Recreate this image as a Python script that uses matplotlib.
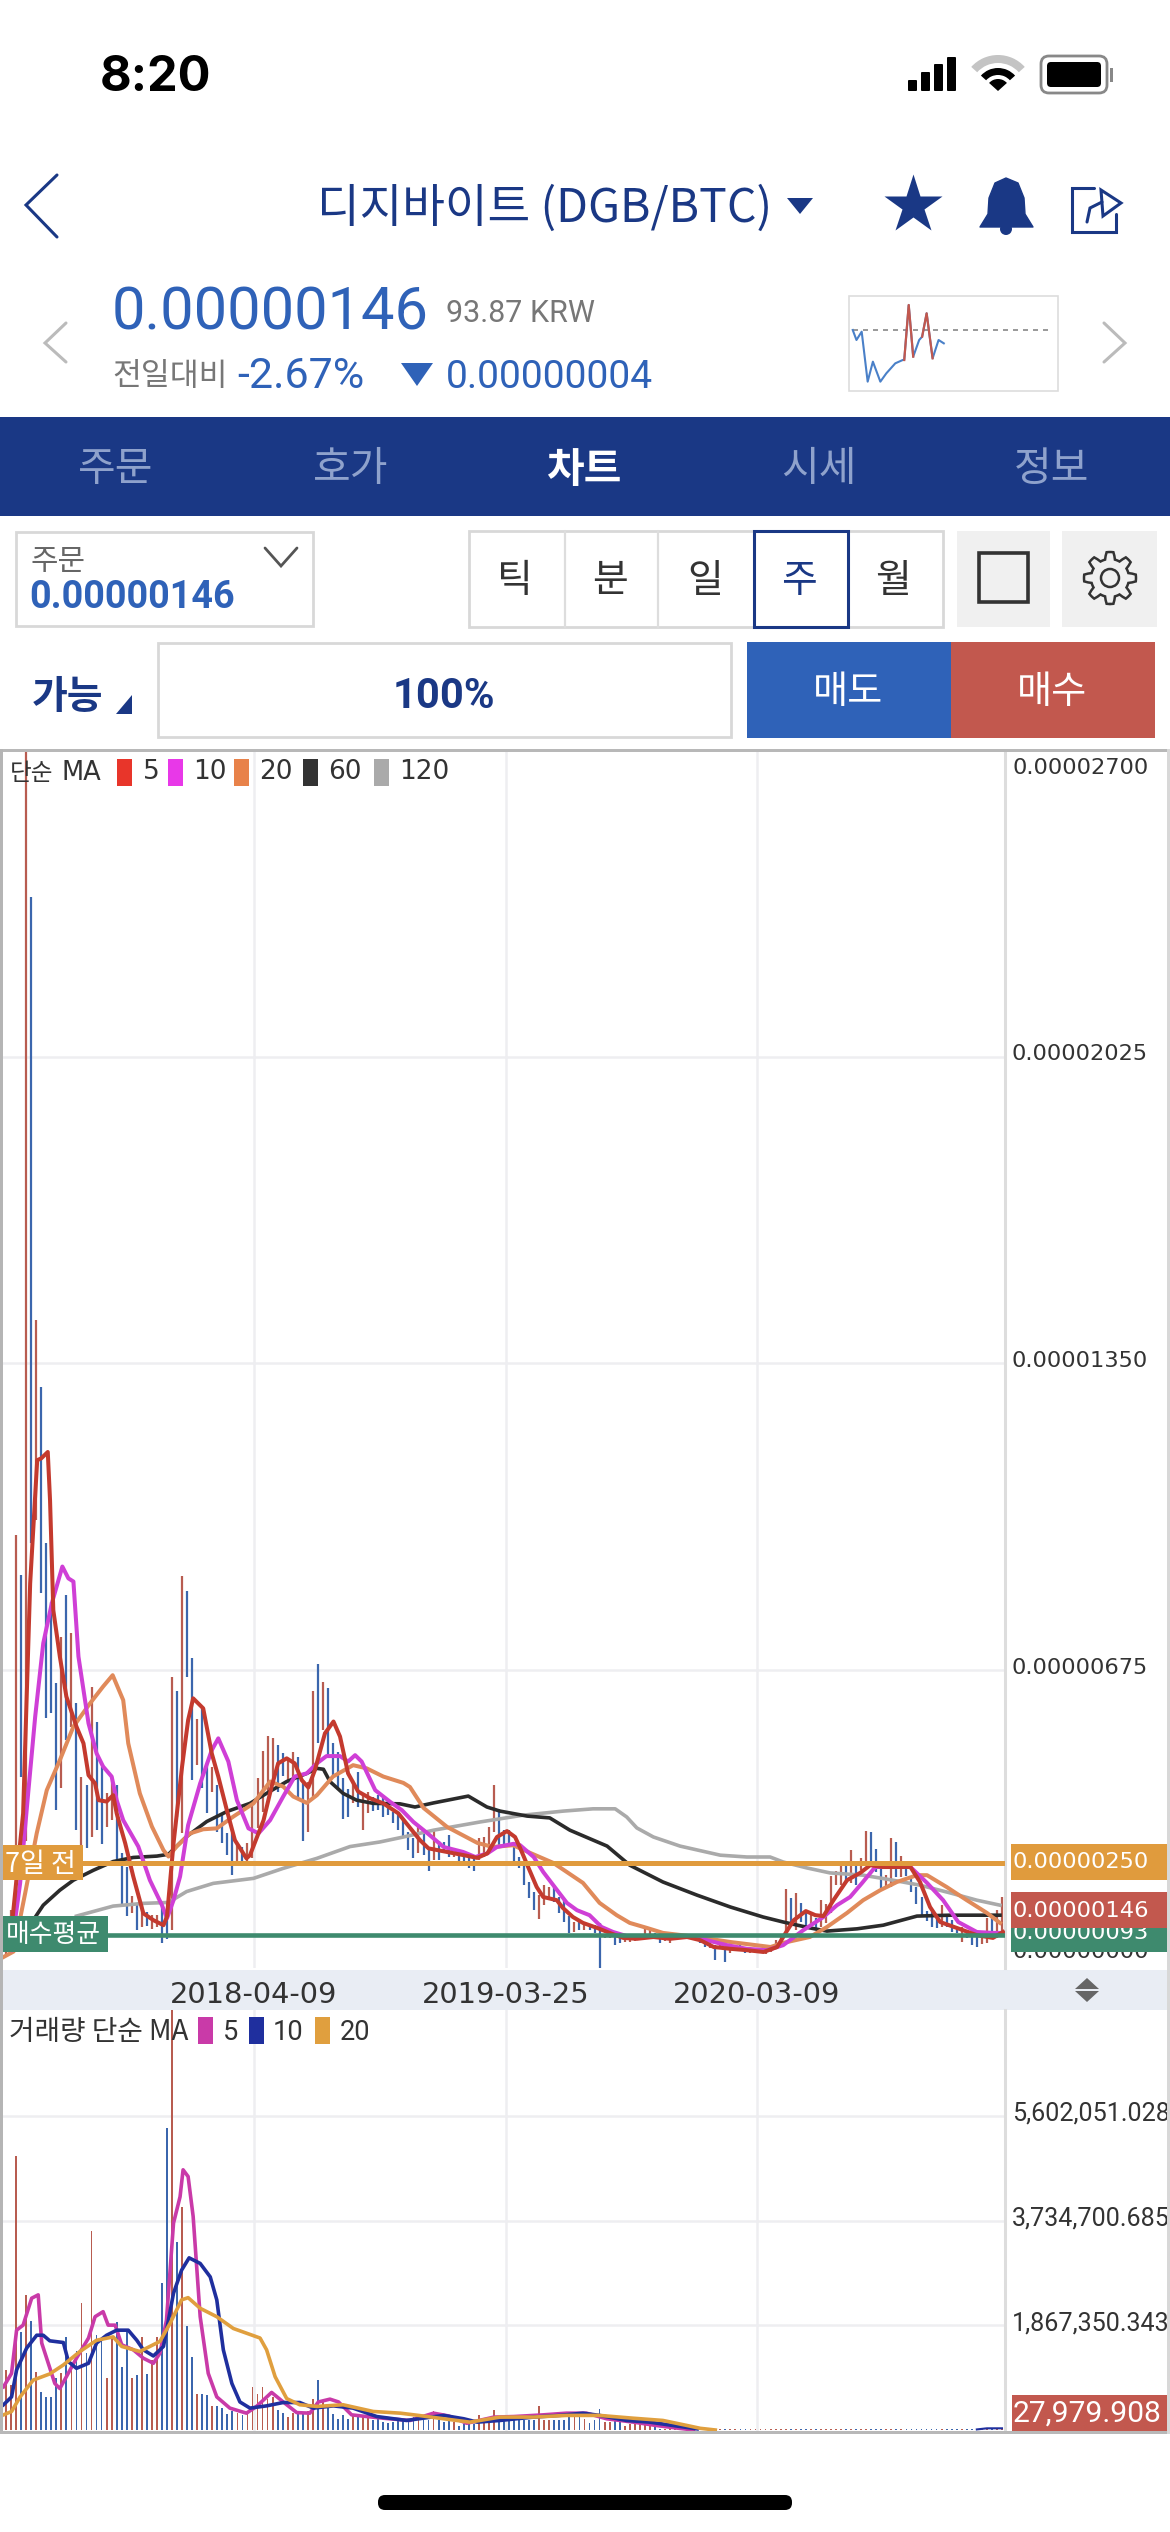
import matplotlib
matplotlib.use('Agg')
import matplotlib.pyplot as plt
from matplotlib.patches import Rectangle, FancyBboxPatch, Polygon, Wedge, Circle
import numpy as np
import pandas as pd

KR = ['Noto Sans CJK KR', 'DejaVu Sans']
RB = ['Roboto', 'DejaVu Sans']
NAVY = '#1a3885'
BLUE = '#2f62b8'
RED = '#c2584e'
ORANGE = '#e09b3d'
GREEN = '#3e8a6e'

# weekly candles, prices in 1e-8 BTC
dates = pd.date_range('2017-04-24', periods=200, freq='7D')
date_ticks = [50, 100, 150]

high = [60, 90, 147, 972, 884, 2720, 2376, 1445, 1298, 954,
        825, 647, 748, 840, 756, 602, 440, 422, 639, 561,
        463, 405, 440, 422, 272, 242, 178, 158, 162, 143,
        136, 136, 165, 140, 660, 629, 882, 849, 702, 568,
        589, 471, 463, 422, 361, 317, 317, 290, 286, 295,
        383, 438, 497, 530, 526, 510, 493, 482, 495, 484,
        433, 429, 629, 689, 649, 636, 515, 495, 438, 414,
        433, 451, 405, 407, 396, 400, 394, 389, 363, 363,
        345, 319, 306, 334, 323, 282, 321, 299, 297, 312,
        275, 273, 273, 268, 262, 306, 308, 330, 422, 370,
        323, 323, 295, 264, 251, 209, 187, 180, 202, 198,
        202, 176, 174, 134, 121, 128, 119, 114, 114, 119,
        92, 92, 92, 88, 88, 87, 88, 92, 108, 108,
        97, 92, 92, 88, 88, 90, 90, 92, 92, 86,
        77, 75, 70, 70, 66, 64, 66, 70, 66, 65,
        64, 64, 64, 70, 81, 88, 194, 174, 185, 163,
        141, 141, 130, 169, 161, 222, 233, 246, 244, 279,
        253, 262, 321, 319, 282, 246, 224, 306, 297, 266,
        246, 220, 198, 176, 145, 143, 136, 158, 132, 125,
        110, 110, 103, 92, 88, 92, 130, 136, 147, 176]
low = [40, 50, 59, 140, 440, 300, 954, 1005, 845, 569,
       580, 367, 416, 521, 551, 323, 290, 283, 309, 323,
       293, 330, 346, 257, 158, 134, 140, 103, 110, 112,
       105, 110, 75, 83, 103, 352, 316, 660, 433, 466,
       416, 361, 407, 319, 295, 268, 224, 253, 253, 253,
       262, 328, 363, 405, 427, 407, 442, 433, 433, 389,
       299, 319, 396, 515, 543, 488, 440, 411, 348, 352,
       383, 374, 323, 361, 365, 367, 352, 356, 339, 323,
       306, 279, 262, 273, 268, 233, 257, 257, 275, 264,
       264, 255, 255, 240, 233, 257, 264, 273, 319, 286,
       286, 290, 246, 240, 202, 174, 147, 128, 158, 169,
       165, 141, 121, 97, 99, 103, 103, 103, 97, 20,
       86, 86, 70, 75, 77, 77, 80, 86, 92, 92,
       84, 75, 79, 75, 81, 84, 86, 84, 81, 75,
       66, 64, 37, 62, 33, 53, 57, 59, 53, 53,
       53, 53, 51, 55, 66, 66, 97, 110, 103, 121,
       110, 110, 103, 110, 119, 141, 202, 202, 207, 207,
       202, 235, 251, 253, 231, 196, 196, 198, 220, 220,
       222, 187, 161, 136, 123, 110, 108, 110, 110, 99,
       97, 77, 86, 70, 66, 73, 75, 86, 86, 99]
# r = up week, b = down week
candle_dir = ('rrrrbrbrbb' 'bbrbrbrbrb' 'brrbbbrbrb' 'rrbbrbrbbr' 'bbrbbbbrbr'
              'rrrrrbbrrb' 'brrbrbbbbb' 'rbrrbbbbbb' 'bbbrbbrbbb' 'rbbbbrrrrb'
              'bbbbbbbrrr' 'bbbbrbrbbb' 'rrbbrrrrrr' 'bbrrrrbbbb' 'brbrbrrbbr'
              'rrrrrrrbrb' 'brbrrrrrbr' 'brrbbbrrbr' 'bbbbbbbrbb' 'brbbbrrbrr')

# volume, millions
volume = [.9, 1.07, .80, 4.88, 1.75, 2.41, 1.94, 1.04, .68, .59,
          .59, .92, 1.01, 1.65, 1.22, 1.40, 2.27, 1.37, 3.55, 1.69,
          1.60, .93, 1.66, 1.93, 1.13, 1.75, .92, .98, 1.66, .99,
          1.25, 1.65, 2.63, 5.38, 7.50, 3.36, 3.98, 1.85, 1.31, .65,
          .65, .62, .43, .42, .39, .28, .33, .30, .27, .30,
          .77, .64, .77, .56, .59, .35, .30, .24, .31, .33,
          .30, .33, .56, .89, .50, .42, .28, .19, .27, .19,
          .25, .24, .24, .24, .18, .19, .15, .12, .15, .17,
          .17, .20, .23, .29, .17, .17, .34, .18, .14, .18,
          .14, .08, .11, .11, .11, .26, .15, .15, .36, .17,
          .17, .17, .17, .17, .17, .17, .17, .42, .18, .18,
          .18, .18, .18, .31, .23, .23, .20, .12, .18, .37,
          .14, .14, .17, .17, .08, .11, .11, .11, .11, .11,
          .11, .02, .01, .01, .01, .01, .01, .01, .01, .01,
          .01, .01, .01, .01, .01, .01, .01, .01, .01, .01,
          .01, .01, .01, .01, .01, .01, .01, .01, .01, .01,
          .01, .01, .01, .01, .01, .01, .01, .01, .01, .01,
          .01, .01, .01, .01, .01, .01, .01, .01, .01, .01,
          .01, .01, .01, .01, .01, .01, .01, .01, .01, .01,
          .01, .01, .01, .01, .01, .01, .01, .02, .03, .028]

# moving averages at these candle positions
ma5_x = [2, 3, 4.4, 5.8, 7.2, 8, 9.3, 9.75, 10.4, 11.7, 13, 15, 16.4, 17.4, 18.7, 19.4, 21, 22.3, 23, 24.7,
         26.3, 28.3, 30.3, 32.3, 33, 34.3, 36, 37.2, 38.2, 40.2, 41.9, 43.2, 44.9, 46.5, 48.8, 49.5, 52.2, 53.8,
         55.1, 56.8, 58.4, 59.8, 61.1, 62.4, 64.4, 66.1, 67.4, 69, 71, 73.4, 76, 79, 80.6, 83.3, 85, 88.7, 92,
         94.7, 96.7, 98.6, 100.6, 102.2, 103.2, 104.8, 106.5, 107.8, 110.5, 111.7, 113.7, 115.7, 118.5, 121,
         123.7, 126.4, 129.7, 133, 136.4, 139, 141.7, 145, 148.3, 151.6, 154.3, 156, 157.6, 160, 161.9, 163.5,
         165.5, 168.2, 170.8, 172.8, 175.4, 180.8, 182.7, 184.7, 186.7, 190, 194, 197.2, 199.2]
ma5_v = [96, 206, 360, 866, 1137, 1141, 1155, 1049, 807, 705, 617, 551, 514, 444, 426, 389, 386, 400, 360, 294,
         221, 140, 125, 114, 133, 294, 463, 565, 613, 591, 492, 441, 367, 301, 261, 268, 345, 419,
         470, 481, 470, 433, 417, 455, 536, 562, 529, 448, 408, 393, 382, 360, 338, 301, 283, 275, 268,
         262, 272, 308, 321, 308, 284, 242, 198, 176, 169, 152, 132, 119, 108, 97,
         86, 84, 88, 84, 88, 81, 66, 62, 59, 55, 66, 97, 125, 145, 136, 134,
         169, 213, 229, 246, 242, 242, 209, 154, 121, 108, 92, 86, 99]
ma10_x = [2, 3.8, 5.4, 6.8, 8.4, 10.1, 12.2, 13.4, 14.4, 15.4, 17.4, 19, 20.3, 22, 23, 24.3, 27.3, 29.6, 32, 33,
          34.3, 35.6, 37.2, 39.6, 41.9, 43.2, 45.2, 46.9, 49.2, 51.2, 53.5, 56.1, 58.4, 60.8, 62.8, 64.7, 67.4,
          69, 70.4, 71.7, 74.4, 77.4, 79.7, 82, 84.7, 88, 91.9, 94.3, 96.7, 98.6, 101.9, 103.2, 105.9, 107.8,
          109.8, 112.5, 114.5, 117, 119.4, 121.7, 125, 128.4, 132.4, 137, 140.3, 144.3, 148.3, 152.3, 155.5,
          159.5, 163.5, 166.2, 168.8, 171.2, 173.8, 176.8, 180.8, 184.1, 187.3, 190.3, 194, 197.2, 199.2]
ma10_v = [59, 206, 404, 573, 734, 822, 903, 877, 870, 705, 558, 492, 463, 441, 389, 345, 287, 213, 158, 129,
          169, 221, 334, 426, 499, 525, 474, 389, 327, 316, 345, 397, 441, 448, 470, 486, 486,
          474, 488, 474, 411, 385, 367, 341, 317, 286, 275, 264, 272, 286, 293, 290, 264, 231,
          202, 163, 147, 136, 110, 99, 88, 88, 88, 88, 81, 70, 62, 59, 70,
          103, 132, 158, 176, 207, 242, 242, 242, 207, 169, 121, 99, 97, 97]
ma20_x = [0, 2.5, 4.8, 7.1, 9.1, 11.7, 14.4, 17.7, 20.3, 22.2, 24.3, 25.3, 27.6, 30, 32.3, 33.3, 34.9, 37.6, 40.2,
          42.9, 46.2, 50.2, 53.5, 56.1, 58.1, 60.8, 62.8, 66, 70, 72.7, 76, 80, 81.3, 84, 88.7, 94.7, 97.8,
          101.8, 105.2, 109.8, 115.7, 119, 122.4, 125, 128.4, 131.6, 138.4, 145, 153, 155.5, 160.8, 164.2,
          168.2, 171.4, 174.8, 178.1, 182.1, 184.1, 188, 192, 196, 198.6]
ma20_v = [41, 56, 184, 316, 411, 477, 551, 602, 639, 664, 609, 514, 404, 331, 279, 265, 287, 316, 325,
          327, 353, 382, 430, 419, 397, 383, 400, 441, 466, 459, 441, 427, 418, 372, 330, 295, 286,
          290, 273, 251, 207, 163, 136, 119, 108, 97, 88, 77, 66, 75, 88, 110,
          141, 169, 191, 209, 224, 224, 198, 169, 141, 119]
ma60_x = [6.4, 8.4, 11.7, 14.4, 18.4, 22.3, 26.3, 31, 33.3, 36.9, 40.9, 44.9, 49.5, 52.8, 56.8, 60.8, 62.8, 64.1,
          65.4, 68, 70.7, 74, 79.3, 82.3, 86, 92.9, 96.6, 99.2, 104.6, 109.1, 113.1, 120.5, 125, 131.6, 138.4,
          145, 151.5, 155.5, 160.8, 164.2, 170.2, 175.4, 182.1, 188.7, 195.2, 198.6]
ma60_v = [125, 158, 191, 213, 235, 254, 263, 266, 270, 309, 342, 364, 382, 404, 430, 448, 459, 457,
          430, 404, 389, 382, 381, 374, 383, 398, 374, 365, 354, 350, 323, 288, 246, 209, 180,
          154, 132, 121, 108, 101, 106, 114, 134, 136, 136, 136]
ma120_x = [15, 22.3, 28.3, 33.3, 36.9, 42.2, 50.2, 56.1, 62.8, 69.4, 75.3, 80, 86, 95.2, 103.8, 111.8, 117.7, 122.1,
           124.4, 126.4, 129.7, 135, 143, 148.3, 152.9, 155.5, 160.2, 164.8, 171.4, 177.3, 182.7, 188.7, 194, 198.6]
ma120_v = [134, 156, 162, 164, 188, 206, 217, 239, 261, 287, 297, 308, 323, 341, 356, 365, 370, 370,
           352, 328, 308, 288, 268, 264, 264, 253, 240, 229, 224, 213, 202, 185, 169, 158]

vma5_x = [.5, 2.1, 3.1, 4.4, 6.1, 7.4, 8.1, 9.4, 10.7, 11.7, 13, 15, 17.4, 18.7, 20.3, 21.3, 22.7, 24, 26.3, 28.3,
          30.3, 31.6, 32.9, 34.3, 35.6, 36.2, 37.2, 38.2, 39.6, 41.2, 42.9, 45.5, 48.8, 50.8, 53.8, 56.1, 58.8,
          61.4, 63.1, 65.4, 67.1, 69.7, 72.7, 76, 81.3, 86, 89, 92.6, 98, 102, 107.8, 112.4, 116.4, 120.4, 125.7,
          130.3, 134.3, 137.7]
vma5_v = [.77, 1.01, 1.78, 1.87, 2.35, 2.41, 1.55, 1.19, .83, .74, .95, 1.28, 1.64, 2.02, 2.11, 1.87, 1.87, 1.52, 1.43, 1.28,
          1.19, 1.37, 1.96, 3.69, 4.16, 4.64, 4.52, 3.81, 2.02, 1.01, .59, .39, .30, .42, .67, .50, .31,
          .30, .50, .55, .50, .27, .24, .21, .17, .30, .25, .12, .23, .24, .27, .30, .30, .20, .14,
          .08, .035, .0]
vma10_x = [.5, 2.1, 3.1, 5.1, 7.1, 8.4, 9.7, 12.4, 13.4, 15, 17.4, 19, 21, 23, 25.3, 27, 28.3, 30.3, 32.3, 34.3,
           35.9, 37.4, 39.6, 41.6, 42.9, 44.2, 45.9, 47.5, 49.5, 52.8, 56.1, 59.4, 62.1, 66.1, 70, 74.7, 80.6,
           88, 92, 94.7, 99.2, 105.8, 111, 115.7, 119, 124.4, 129, 133.6, 138.4]
vma10_v = [.45, .59, 1.07, 1.46, 1.69, 1.69, 1.59, 1.56, 1.22, 1.10, 1.19, 1.55, 1.69, 1.78, 1.78, 1.60, 1.43, 1.32, 1.49, 2.44,
           2.85, 3.07, 2.97, 2.73, 2.32, 1.43, .83, .50, .39, .43, .49, .49, .39, .43, .39, .24, .17,
           .26, .20, .14, .17, .23, .26, .30, .26, .17, .14, .08, .02]
vma20_x = [.5, 2.1, 3.8, 6.4, 9.7, 12.4, 15.7, 19, 22.3, 24, 27.6, 31.6, 33.6, 35.9, 37.2, 39.6, 42.9, 46.2, 51.5,
           52.8, 54.5, 56.8, 59.4, 62.8, 68, 74, 79.4, 83, 88, 93.2, 99.2, 105.8, 112.4, 119, 125.7, 131.6,
           136.4, 139, 142]
vma20_v = [.27, .33, .59, .89, 1.0, 1.16, 1.40, 1.60, 1.66, 1.49, 1.40, 1.58, 1.90, 2.32, 2.36, 2.17, 2.02, 1.81, 1.64,
           1.43, .95, .56, .45, .42, .45, .33, .30, .26, .20, .14, .23, .23, .26, .26, .21, .17,
           .08, .03, .0]
# the moving average comes back up for the last weeks only
vma_tail_x = [194, 196, 199]
vma_tail_v = [.01, .03, .03]

price_ticks = [675, 1350, 2025]
price_tick_labels = ['0.00000675', '0.00001350', '0.00002025']
vol_ticks = [1.867350, 3.734701, 5.602051]
vol_tick_labels = ['1,867,350.343', '3,734,700.685', '5,602,051.028']
seven_days_ago = 250
avg_buy = 93

# sparkline in the header, previous close is the dashed line
spark_t = [1143, 1148, 1155, 1163, 1170, 1180, 1188, 1200, 1210, 1212, 1218, 1224, 1232, 1236, 1242, 1250, 1258, 1265]
spark_v = [210, 240, 215, 365, 305, 365, 340, 310, 300, 300, 135, 290, 240, 230, 160, 295, 240, 250]
spark_red = [(9, 12), (13, 16)]

W, H = 1170, 2532
fig = plt.figure(figsize=(W / 100, H / 100), dpi=100, facecolor='white')


def px_axes(x0, y0, x1, y1, **kw):
    return fig.add_axes([x0 / W, 1 - y1 / H, (x1 - x0) / W, (y1 - y0) / H], **kw)


fig.add_artist(Rectangle((0, 1 - 2010 / H), 1, 40 / H, transform=fig.transFigure,
                         facecolor='#e9edf4', edgecolor='none', zorder=-1))

x = np.arange(200) - 0.3
bar_colors = ['#b85c50' if d == 'r' else '#3b66ad' for d in candle_dir]

ax = px_axes(0, 752, 1005, 1968)
ax.vlines(x, low, high, colors=bar_colors, lw=1.6, zorder=3)
ax.plot(np.array(ma120_x) - .3, ma120_v, color='#aaaaaa', lw=2.6, zorder=4)
ax.plot(np.array(ma60_x) - .3, ma60_v, color='#2b2b2b', lw=2.6, zorder=4)
ax.plot(np.array(ma20_x) - .3, ma20_v, color='#e08a5a', lw=2.9, zorder=4)
ax.plot(np.array(ma10_x) - .3, ma10_v, color='#cf3fd6', lw=2.9, zorder=4)
ax.plot(np.array(ma5_x) - .3, ma5_v, color='#c43a2e', lw=2.9, zorder=5)
ax.axhline(seven_days_ago, color=ORANGE, lw=3.6, zorder=6)
ax.axhline(avg_buy, color=GREEN, lw=3.3, zorder=6)
ax.set_xlim(-0.497, 199.3)
ax.set_ylim(19.8, 2695)
ax.set_yticks(price_ticks)
ax.set_yticklabels([])
ax.set_xticks(date_ticks)
ax.set_xticklabels(dates[date_ticks].strftime('%Y-%m-%d'), fontsize=20.8, color='#333333',
                   family='DejaVu Sans')
ax.tick_params(length=0, pad=9.5)
ax.grid(color='#eeeef1', lw=1.8)
ax.set_axisbelow(True)
for side in ['top', 'left', 'bottom']:
    ax.spines[side].set_visible(False)
ax.spines['right'].set_color('#dddddd')
ax.spines['right'].set_linewidth(2.2)
for v, lbl in zip(price_ticks, price_tick_labels):
    ax.annotate(lbl, xy=(1, v), xycoords=ax.get_yaxis_transform(), xytext=(5, 1.5), textcoords='offset points',
                ha='left', va='center', fontsize=16.2, color='#333333', family='DejaVu Sans', annotation_clip=False)

ax2 = px_axes(0, 2010, 1005, 2431)
ax2.bar(x, volume, width=0.36, color=bar_colors, zorder=3)
ax2.plot(np.array(vma5_x) - .3, vma5_v, color='#c93aa8', lw=2.6, zorder=4)
ax2.plot(np.array(vma10_x) - .3, vma10_v, color='#1f2f9e', lw=2.6, zorder=5)
ax2.plot(np.array(vma20_x) - .3, vma20_v, color='#e09f3e', lw=2.6, zorder=6)
ax2.plot(np.array(vma_tail_x) - .3, vma_tail_v, color='#1f2f9e', lw=1.5, zorder=5)
ax2.set_xlim(-0.497, 199.3)
ax2.set_ylim(-0.018, 7.49)
ax2.set_yticks(vol_ticks)
ax2.set_yticklabels([])
ax2.set_xticks(date_ticks)
ax2.set_xticklabels([])
ax2.tick_params(length=0)
ax2.grid(color='#eeeef1', lw=1.8)
ax2.set_axisbelow(True)
for side in ['top', 'left', 'bottom']:
    ax2.spines[side].set_visible(False)
ax2.spines['right'].set_color('#dddddd')
ax2.spines['right'].set_linewidth(2.2)
for v, lbl in zip(vol_ticks, vol_tick_labels):
    ax2.annotate(lbl, xy=(1, v), xycoords=ax2.get_yaxis_transform(), xytext=(5, 1.5), textcoords='offset points',
                 ha='left', va='center', fontsize=18.1, color='#333333', family='Roboto', annotation_clip=False)

# everything around the charts, in screen pixels
ui = fig.add_axes([0, 0, 1, 1], facecolor='none', zorder=5)
ui.set_xlim(0, W)
ui.set_ylim(H, 0)
ui.axis('off')


def rect(x0, y0, x1, y1, fc='none', ec='none', lw=0, z=2):
    ui.add_patch(Rectangle((x0, y0), x1 - x0, y1 - y0, facecolor=fc, edgecolor=ec, linewidth=lw, zorder=z))


def line(xs, ys, color, lw=2, z=3):
    ui.plot(xs, ys, color=color, lw=lw, zorder=z, solid_capstyle='round', solid_joinstyle='miter')


def txt(px, py, s, size, color='#333333', ha='center', weight='normal', family=KR, z=4):
    ui.text(px, py, s, fontsize=size, color=color, ha=ha, va='center', fontweight=weight, family=family, zorder=z)


# status bar
txt(156, 78, '8:20', 35, '#000000', weight='bold', family=['Inter', 'DejaVu Sans'])
for bx, top in zip([908, 921, 934, 947], [80, 72, 64, 57]):
    ui.add_patch(FancyBboxPatch((bx + 1, top + 1), 7, 89 - top, boxstyle='round,pad=1', fc='black', ec='none'))
for r, w, c in [(36, 8, '#c4c4c4'), (23, 7, 'black'), (12, 12, 'black')]:
    ui.add_patch(Wedge((998, 91), r, 222, 318, width=w, fc=c, ec='none'))
ui.add_patch(FancyBboxPatch((1044, 59), 60, 31, boxstyle='round,pad=3,rounding_size=8', fc='white', ec='#888888', lw=2))
ui.add_patch(FancyBboxPatch((1049, 64), 50, 21, boxstyle='round,pad=2,rounding_size=4', fc='black', ec='none', zorder=3))
rect(1110, 68, 1113, 82, fc='#888888')

# title row
line([57, 26, 57], [175, 205, 237], NAVY, 2.2)
txt(545, 209, '디지바이트 (DGB/BTC)', 33.4, NAVY)
ui.add_patch(Polygon([(787, 198), (813, 198), (800, 214)], fc=NAVY, ec='none'))
ui.plot([913], [205], marker='*', ms=44, color=NAVY, mec='none')
ui.add_patch(Polygon([(1006, 178), (1018, 183), (1024, 198), (1025, 214), (1033, 227), (980, 227),
                      (988, 214), (989, 198), (995, 183)], fc=NAVY, ec=NAVY, lw=1, joinstyle='round'))
ui.add_patch(Circle((1006, 229), 6, fc=NAVY, ec='none'))
line([1094, 1072, 1072, 1116, 1116], [188, 188, 232, 232, 214], NAVY, 2.2)
line([1087, 1090, 1102], [222, 208, 202], NAVY, 2.2)
ui.add_patch(Polygon([(1101, 190), (1121, 203), (1103, 216)], fc='none', ec=NAVY, lw=2.2))

# price row
txt(112, 313, '0.00000146', 42.8, BLUE, ha='left', family=RB)
txt(446, 313, '93.87 KRW', 22, '#777777', ha='left', family=RB)
txt(112, 376, '전일대비', 22.6, '#777777', ha='left')
txt(237, 377, '-2.67%', 31, BLUE, ha='left', family=RB)
ui.add_patch(Polygon([(401, 363), (433, 363), (417, 386)], fc=BLUE, ec='none'))
txt(446, 377, '0.00000004', 28, BLUE, ha='left', family=RB)
line([66, 45, 66], [323, 343, 362], '#bbbbbb', 2.2)
line([1104, 1125, 1104], [323, 343, 362], '#bbbbbb', 2.2)
rect(849, 296, 1058, 391, ec='#dddddd', lw=1.2)

spark = px_axes(849, 296, 1058, 391, facecolor='none', zorder=6)
spark.set_xlim(1138, 1418)
spark.set_ylim(393, 108)
spark.axis('off')
spark.axhline(210, xmin=0.02, xmax=0.97, color='#888888', lw=1.2, ls=(0, (3, 3)))
spark.plot(spark_t, spark_v, color='#4a80c8', lw=1.5)
for a, b in spark_red:
    spark.plot(spark_t[a:b], spark_v[a:b], color='#c2584e', lw=1.6)

# tabs
rect(0, 417, W, 516, fc=NAVY)
for tx, s in zip([116, 351, 819, 1052], ['주문', '호가', '시세', '정보']):
    txt(tx, 470, s, 29.5, '#8fa2cc')
txt(584, 470, '차트', 29.5, 'white', weight='bold')

# order / period controls
rect(16, 532, 313, 626, fc='white', ec='#d8d8d8', lw=2)
txt(30, 562, '주문', 21.5, '#666666', ha='left')
txt(29, 597, '0.00000146', 27.2, BLUE, ha='left', weight='bold', family=RB)
line([265, 281, 297], [548, 566, 548], '#555555', 2)
rect(469, 531, 943, 627, fc='white', ec='#d8d8d8', lw=2)
for dx in [565, 658]:
    line([dx, dx], [531, 627], '#dddddd', 1.6)
for bx, s in zip([515, 610, 705, 893], ['틱', '분', '일', '월']):
    txt(bx, 581, s, 28, '#333333')
rect(754, 531, 848, 627, fc='white', ec=NAVY, lw=2.2, z=3)
txt(799, 581, '주', 28, NAVY)
rect(957, 531, 1050, 627, fc='#f0f0f0')
rect(979, 553, 1028, 602, fc='none', ec='#333333', lw=2.6, z=3)
rect(1062, 531, 1157, 627, fc='#f0f0f0')
teeth = np.linspace(0, 2 * np.pi, 97)
gear_r = 22.5 + 3.5 * np.clip(2.2 * np.cos(8 * teeth), -1, 1)
line(1110 + gear_r * np.sin(teeth), 578 + gear_r * np.cos(teeth), '#333333', 1.8)
ui.add_patch(Circle((1110, 578), 9, fc='none', ec='#333333', lw=1.8, zorder=3))

txt(32, 698, '가능', 28, NAVY, ha='left', weight='bold')
ui.add_patch(Polygon([(132, 695), (132, 714), (116, 714)], fc=NAVY, ec='none'))
rect(158, 643, 731, 737, fc='white', ec='#d8d8d8', lw=2)
txt(444, 696, '100%', 30, NAVY, weight='bold', family=RB)
rect(747, 642, 951, 738, fc=BLUE)
rect(951, 642, 1155, 738, fc=RED)
txt(848, 693, '매도', 27.5, 'white')
txt(1052, 693, '매수', 27.5, 'white')

# chart frame
rect(0, 749, W, 752, fc='#b8b8b8')
rect(0, 749, 3, 2434, fc='#b5b5b5')
rect(0, 2431, W, 2434, fc='#b8b8b8')
rect(1167, 749, 1170, 2434, fc='#d8d8d8')

# legends
txt(10, 773, '단순', 17, ha='left')
txt(62, 773, 'MA', 18.5, ha='left', family='DejaVu Sans')
for sx, c, lx, s in zip([117, 168, 234, 303, 374], ['#e8352a', '#e838e8', '#e8824a', '#333333', '#aaaaaa'],
                        [143, 193, 259, 328, 399], ['5', '10', '20', '60', '120']):
    rect(sx, 759, sx + 15, 786, fc=c)
    txt(lx, 772, s, 19, ha='left', family='DejaVu Sans')
txt(9, 2032, '거래량 단순 MA', 20, ha='left')
for sx, c, lx, s in zip([198, 249, 315], ['#c93aa8', '#1f2f9e', '#e09f3e'], [223, 273, 340], ['5', '10', '20']):
    rect(sx, 2017, sx + 15, 2044, fc=c)
    txt(lx, 2032, s, 19.6, ha='left', family='Roboto')

# price tags
rect(3, 1845, 83, 1880, fc=ORANGE)
txt(5, 1864, '7일 전', 19.5, 'white', ha='left')
rect(3, 1916, 108, 1952, fc=GREEN)
txt(6, 1935, '매수평균', 18.6, 'white', ha='left')
txt(1012, 768, '0.00002700', 16.2, ha='left', family='DejaVu Sans')
rect(1011, 1844, 1167, 1880, fc=ORANGE)
txt(1012, 1862, '0.00000250', 16.2, 'white', ha='left', family='DejaVu Sans')
txt(1012, 1952, '0.00000000', 16.2, ha='left', family='DejaVu Sans', z=2)
rect(1011, 1928, 1167, 1952, fc=GREEN, z=3)
txt(1012, 1933, '0.00000093', 16.2, 'white', ha='left', family='DejaVu Sans', z=4)
rect(1011, 1892, 1167, 1928, fc=RED, z=5)
txt(1012, 1911, '0.00000146', 16.2, 'white', ha='left', family='DejaVu Sans', z=6)
rect(1012, 2395, 1167, 2431, fc=RED)
txt(1013, 2414, '27,979.908', 21.6, 'white', ha='left', family='Roboto')

# sort handle in the date band
ui.add_patch(Polygon([(1075, 1989), (1099, 1989), (1087, 1978)], fc='#666666', ec='none'))
ui.add_patch(Polygon([(1075, 1991), (1099, 1991), (1087, 2002)], fc='#666666', ec='none'))

# home indicator
ui.add_patch(FancyBboxPatch((380, 2497), 410, 11, boxstyle='round,pad=2,rounding_size=7', fc='black', ec='none'))

fig.savefig('out.png', dpi=100)
